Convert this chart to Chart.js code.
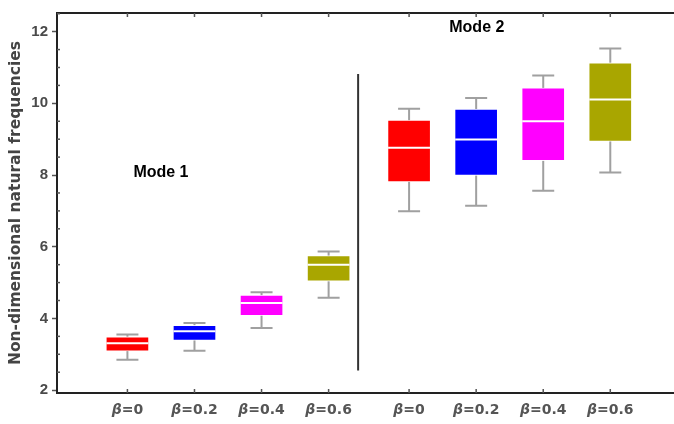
<!DOCTYPE html>
<html>
<head>
<meta charset="utf-8">
<script src="https://cdn.jsdelivr.net/npm/chart.js@4.4.1/dist/chart.umd.min.js"></script>
<style>
    html, body { margin: 0; padding: 0; background: #fff; }
    #wrap { width: 674px; height: 424px; }
</style>
</head>
<body>
<div id="wrap"><canvas id="boxChart" width="674" height="424"></canvas></div>
<script>
// ================================================
// DATA
// ================================================

// two groups (Mode 1 / Mode 2), four beta values each
const betaLabels = ['0', '0.2', '0.4', '0.6', '0', '0.2', '0.4', '0.6'];
const xPositions = [1, 2, 3, 4, 5.2, 6.2, 7.2, 8.2];

const whiskerLow  = [2.85, 3.10, 3.73, 4.58, 6.99, 7.14, 7.56, 8.07];
const q1          = [3.09, 3.39, 4.08, 5.04, 7.81, 7.99, 8.40, 8.94];
const medians     = [3.31, 3.64, 4.43, 5.50, 8.76, 8.99, 9.50, 10.11];
const q3          = [3.49, 3.81, 4.65, 5.75, 9.53, 9.84, 10.43, 11.13];
const whiskerHigh = [3.55, 3.87, 4.73, 5.87, 9.85, 10.15, 10.78, 11.53];

const boxColors = ['#ff0000', '#0000ff', '#ff00ff', '#a9a600',
                   '#ff0000', '#0000ff', '#ff00ff', '#a9a600'];

const yTickValues = [2, 4, 6, 8, 10, 12];
const yMinorStep = 0.5;

const modeLabels = ['Mode 1', 'Mode 2'];
const modeLabelX = [1.5, 6.21];
const modeLabelY = [8.08, 12.11];

// separator between the two groups
const dividerX = 4.44;
const dividerY = [2.55, 10.82];

// ================================================
// PLUGIN : whiskers, medians, frame, labels
// ================================================

const boxPlotExtras = {
    id: 'boxPlotExtras',
    beforeDatasetsDraw(chart) {
        const { ctx, scales: { x, y } } = chart;
        ctx.save();
        ctx.strokeStyle = '#a0a0a0';
        ctx.lineWidth = 2;
        xPositions.forEach((pos, i) => {
            const px = x.getPixelForValue(pos);
            const cap = 11;
            ctx.beginPath();
            ctx.moveTo(px, y.getPixelForValue(whiskerLow[i]));
            ctx.lineTo(px, y.getPixelForValue(q1[i]));
            ctx.moveTo(px, y.getPixelForValue(q3[i]));
            ctx.lineTo(px, y.getPixelForValue(whiskerHigh[i]));
            ctx.moveTo(px - cap, y.getPixelForValue(whiskerLow[i]));
            ctx.lineTo(px + cap, y.getPixelForValue(whiskerLow[i]));
            ctx.moveTo(px - cap, y.getPixelForValue(whiskerHigh[i]));
            ctx.lineTo(px + cap, y.getPixelForValue(whiskerHigh[i]));
            ctx.stroke();
        });
        ctx.restore();
    },
    afterDatasetsDraw(chart) {
        const { ctx, chartArea, scales: { x, y } } = chart;
        ctx.save();

        // medians
        ctx.strokeStyle = '#ffffff';
        ctx.lineWidth = 2;
        xPositions.forEach((pos, i) => {
            const px = x.getPixelForValue(pos);
            const py = y.getPixelForValue(medians[i]);
            ctx.beginPath();
            ctx.moveTo(px - 21, py);
            ctx.lineTo(px + 21, py);
            ctx.stroke();
        });

        // top frame line
        ctx.strokeStyle = '#222';
        ctx.lineWidth = 2;
        ctx.beginPath();
        ctx.moveTo(chartArea.left, chartArea.top);
        ctx.lineTo(chartArea.right, chartArea.top);
        ctx.stroke();

        // category ticks (inside, top and bottom)
        ctx.lineWidth = 1.5;
        ctx.strokeStyle = '#555';
        xPositions.forEach(pos => {
            const px = x.getPixelForValue(pos);
            ctx.beginPath();
            ctx.moveTo(px, chartArea.bottom);
            ctx.lineTo(px, chartArea.bottom - 4);
            ctx.moveTo(px, chartArea.top);
            ctx.lineTo(px, chartArea.top + 4);
            ctx.stroke();
        });

        // minor y ticks
        for (let v = yTickValues[0]; v <= y.max; v += yMinorStep) {
            if (yTickValues.includes(v)) continue;
            const py = y.getPixelForValue(v);
            ctx.beginPath();
            ctx.moveTo(chartArea.left, py);
            ctx.lineTo(chartArea.left + 3, py);
            ctx.stroke();
        }

        // divider
        ctx.strokeStyle = '#333';
        ctx.lineWidth = 2;
        ctx.beginPath();
        ctx.moveTo(x.getPixelForValue(dividerX), y.getPixelForValue(dividerY[0]));
        ctx.lineTo(x.getPixelForValue(dividerX), y.getPixelForValue(dividerY[1]));
        ctx.stroke();

        // Mode labels
        ctx.fillStyle = '#000';
        ctx.font = 'bold 16px "Liberation Sans", Arial, sans-serif';
        ctx.textAlign = 'center';
        ctx.textBaseline = 'middle';
        modeLabels.forEach((txt, i) => {
            ctx.fillText(txt, x.getPixelForValue(modeLabelX[i]), y.getPixelForValue(modeLabelY[i]));
        });

        // x labels : italic beta + bold value
        const betaFont = 'italic bold 14px "DejaVu Sans", sans-serif';
        const restFont = 'bold 14px "DejaVu Sans", sans-serif';
        ctx.fillStyle = '#555';
        ctx.textAlign = 'left';
        xPositions.forEach((pos, i) => {
            const rest = '=' + betaLabels[i];
            ctx.font = betaFont;
            const wb = ctx.measureText('β').width;
            ctx.font = restFont;
            const wr = ctx.measureText(rest).width;
            const start = x.getPixelForValue(pos) - (wb + wr) / 2;
            const py = chartArea.bottom + 17;
            ctx.font = betaFont;
            ctx.fillText('β', start, py);
            ctx.font = restFont;
            ctx.fillText(rest, start + wb, py);
        });

        ctx.restore();
    }
};

// ================================================
// CHART
// ================================================

function initBoxChart() {
    const ctx = document.getElementById('boxChart');
    if (!ctx) return;

    new Chart(ctx, {
        type: 'bar',
        data: {
            datasets: [{
                data: xPositions.map((pos, i) => ({ x: pos, y: [q1[i], q3[i]] })),
                backgroundColor: boxColors,
                borderColor: 'rgba(255, 255, 255, 0.45)',
                borderWidth: 1,
                borderSkipped: false,
                barThickness: 43
            }]
        },
        options: {
            responsive: false,
            animation: false,
            layout: {
                padding: { top: 6, right: 0, left: 0, bottom: 0 }
            },
            plugins: {
                legend: { display: false },
                tooltip: { enabled: false }
            },
            scales: {
                x: {
                    type: 'linear',
                    offset: false,
                    min: -0.05,
                    max: 9.15,
                    grid: { display: false },
                    ticks: { display: false },
                    border: { color: '#222', width: 2 },
                    afterFit: function(scale) { scale.height = 31; }
                },
                y: {
                    min: 1.92,
                    max: 12.52,
                    afterBuildTicks: function(scale) {
                        scale.ticks = yTickValues.map(v => ({ value: v }));
                    },
                    grid: {
                        drawOnChartArea: false,
                        drawTicks: true,
                        tickLength: 5,
                        tickColor: '#555',
                        tickWidth: 1.5
                    },
                    border: { color: '#222', width: 2 },
                    ticks: {
                        padding: 4,
                        color: '#4a4a4a',
                        font: { family: '"Liberation Sans", Arial, sans-serif', size: 15, weight: 'bold' }
                    },
                    title: {
                        display: true,
                        text: 'Non-dimensional natural frequencies',
                        color: '#444',
                        padding: { top: 7, bottom: 0 },
                        font: { family: '"DejaVu Sans", sans-serif', size: 15.5, weight: 'bold' }
                    },
                    afterFit: function(scale) { scale.width = 57; }
                }
            }
        },
        plugins: [boxPlotExtras]
    });
}

initBoxChart();
</script>
</body>
</html>
